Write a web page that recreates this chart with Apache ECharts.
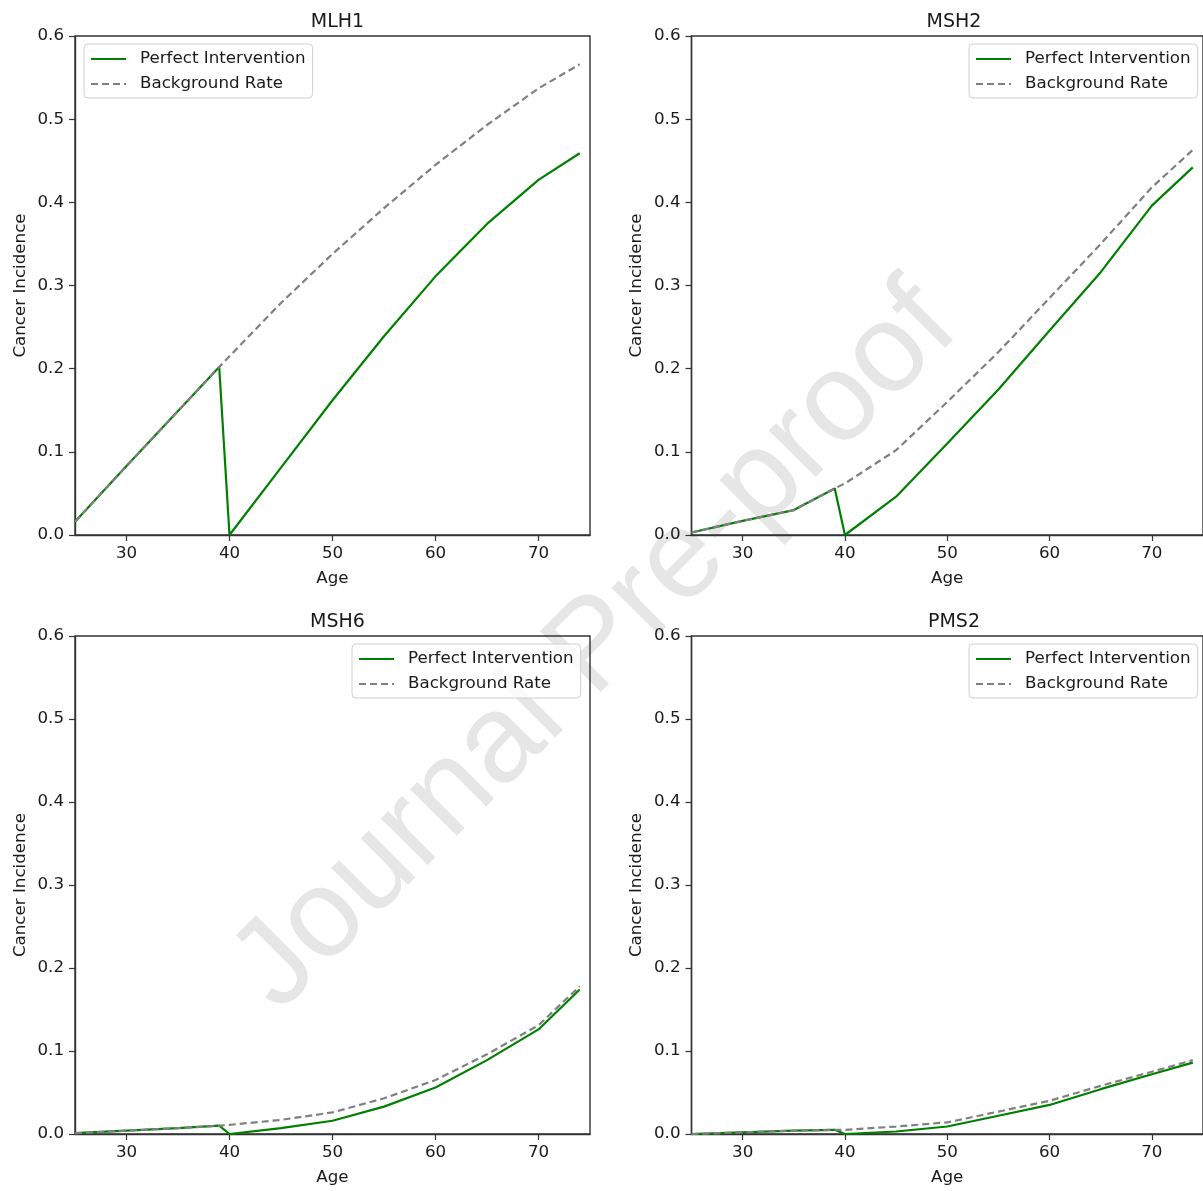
<!DOCTYPE html>
<html>
<head>
<meta charset="utf-8">
<script src="https://cdn.jsdelivr.net/npm/echarts@6/dist/echarts.min.js"></script>
<style>
html,body{margin:0;padding:0;background:#fff;}
#chart{width:1203px;height:1191px;}
</style>
</head>
<body>
<div id="chart"></div>
<script>
// ---- data ----
const ages = [25, 30, 35, 39, 40, 45, 50, 55, 60, 65, 70, 74];
const panelTitles = ['MLH1', 'MSH2', 'MSH6', 'PMS2'];
const seriesNames = ['Perfect Intervention', 'Background Rate'];
const xTickValues = [30, 40, 50, 60, 70];

const mlh1Perfect    = [0.016, 0.083, 0.149, 0.202, 0.000, 0.081, 0.162, 0.239, 0.311, 0.374, 0.427, 0.459];
const mlh1Background = [0.016, 0.083, 0.149, 0.202, 0.215, 0.279, 0.338, 0.393, 0.445, 0.493, 0.537, 0.566];

const msh2Perfect    = [0.003, 0.017, 0.030, 0.056, 0.000, 0.046, 0.110, 0.175, 0.246, 0.316, 0.396, 0.442];
const msh2Background = [0.003, 0.017, 0.030, 0.056, 0.062, 0.102, 0.160, 0.220, 0.285, 0.350, 0.418, 0.463];

const msh6Perfect    = [0.001, 0.004, 0.007, 0.010, 0.000, 0.007, 0.016, 0.033, 0.056, 0.089, 0.126, 0.174];
const msh6Background = [0.001, 0.004, 0.007, 0.010, 0.011, 0.017, 0.026, 0.043, 0.065, 0.096, 0.131, 0.178];

const pms2Perfect    = [0.000, 0.002, 0.004, 0.005, 0.000, 0.003, 0.009, 0.022, 0.035, 0.054, 0.072, 0.086];
const pms2Background = [0.000, 0.002, 0.004, 0.005, 0.005, 0.009, 0.014, 0.027, 0.040, 0.058, 0.075, 0.089];

const watermarkText = 'Journal Pre-proof';

// ---- layout ----
const perfectSets = [mlh1Perfect, msh2Perfect, msh6Perfect, pms2Perfect];
const backgroundSets = [mlh1Background, msh2Background, msh6Background, pms2Background];
const grids = [
  {left: 75,    top: 36,  width: 515, height: 499},
  {left: 691.5, top: 36,  width: 515, height: 499},
  {left: 75,    top: 636, width: 515, height: 498},
  {left: 691.5, top: 636, width: 515, height: 498}
];
const legendPos = [
  {left: 84,  top: 44},
  {left: 969, top: 44},
  {left: 352, top: 644},
  {left: 969, top: 644}
];
const FONT = '"DejaVu Sans", sans-serif';
const TXT = '#1a1a1a';
const FS = 16.7;

const pairs = (vals) => ages.map((a, i) => [a, vals[i]]);

const option = {
  backgroundColor: '#ffffff',
  animation: false,
  graphic: [{
    type: 'text',
    x: 596, y: 648,
    rotation: Math.PI / 4,
    z: -10,
    silent: true,
    style: {
      text: watermarkText,
      font: '125px "Liberation Sans", Arial, sans-serif',
      fill: '#e6e6e6',
      align: 'center',
      verticalAlign: 'middle'
    }
  }],
  title: grids.map((g, i) => ({
    text: panelTitles[i],
    left: g.left + g.width / 2,
    top: g.top - 28,
    textAlign: 'center',
    textStyle: {fontFamily: FONT, fontSize: 19, fontWeight: 'normal', color: TXT}
  })),
  legend: legendPos.map(p => ({
    data: seriesNames,
    orient: 'vertical',
    left: p.left,
    top: p.top,
    itemWidth: 35,
    itemHeight: 14,
    itemGap: 5,
    padding: [5, 7, 4, 6],
    backgroundColor: 'rgba(255,255,255,0.8)',
    borderColor: '#d0d0d0',
    borderWidth: 1,
    borderRadius: 4,
    selectedMode: false,
    itemStyle: {opacity: 0, borderWidth: 0},
    textStyle: {fontFamily: FONT, fontSize: FS, color: TXT, lineHeight: 20, padding: [0, 0, 0, 9]}
  })),
  grid: grids.map(g => ({
    left: g.left, top: g.top, width: g.width, height: g.height,
    show: true, borderColor: '#333', borderWidth: 1.4, backgroundColor: 'transparent',
    containLabel: false
  })),
  xAxis: grids.map((g, i) => ({
    type: 'value',
    gridIndex: i,
    min: 25, max: 75,
    name: 'Age',
    nameLocation: 'middle',
    nameGap: 35,
    nameTextStyle: {fontFamily: FONT, fontSize: FS, color: TXT},
    axisLine: {show: true, lineStyle: {color: '#333', width: 1.4}},
    axisTick: {show: true, inside: false, length: 6, customValues: xTickValues, lineStyle: {color: '#333', width: 1.2}},
    axisLabel: {show: true, margin: 10, customValues: xTickValues, fontFamily: FONT, fontSize: FS, color: TXT},
    splitLine: {show: false}
  })),
  yAxis: grids.map((g, i) => ({
    type: 'value',
    gridIndex: i,
    min: 0, max: 0.6, interval: 0.1,
    name: 'Cancer Incidence',
    nameLocation: 'middle',
    nameGap: 46,
    nameTextStyle: {fontFamily: FONT, fontSize: FS, color: TXT},
    axisLine: {show: true, lineStyle: {color: '#333', width: 1.4}},
    axisTick: {show: true, inside: false, length: 6, lineStyle: {color: '#333', width: 1.2}},
    axisLabel: {show: true, margin: 11, fontFamily: FONT, fontSize: FS, color: TXT,
      formatter: v => v.toFixed(1)},
    splitLine: {show: false}
  })),
  series: []
};

grids.forEach((g, i) => {
  option.series.push({
    name: seriesNames[0],
    type: 'line',
    xAxisIndex: i, yAxisIndex: i,
    data: pairs(perfectSets[i]),
    symbol: 'none',
    z: 2,
    lineStyle: {color: '#008000', width: 2.2},
    itemStyle: {color: '#008000'}
  });
  option.series.push({
    name: seriesNames[1],
    type: 'line',
    xAxisIndex: i, yAxisIndex: i,
    data: pairs(backgroundSets[i]),
    symbol: 'none',
    z: 3,
    lineStyle: {color: '#808080', width: 2.2, type: [7, 4]},
    itemStyle: {color: '#808080'}
  });
});

const chart = echarts.init(document.getElementById('chart'), null, {renderer: 'canvas'});
chart.setOption(option);
</script>
</body>
</html>
